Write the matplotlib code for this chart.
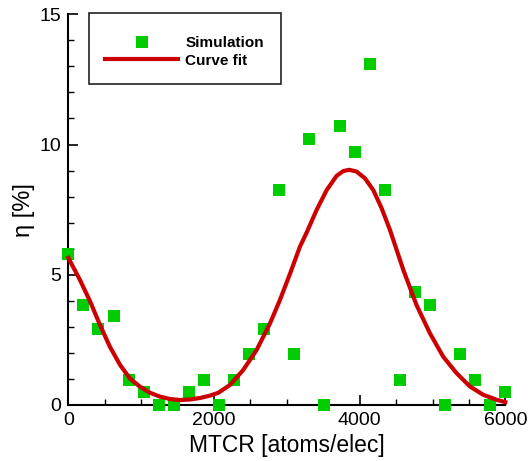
import matplotlib
matplotlib.use("Agg")
import matplotlib.pyplot as plt
from matplotlib.lines import Line2D
from matplotlib.patches import Rectangle

plt.rcParams['font.family'] = ['Liberation Sans', 'DejaVu Sans']

# simulation points
sim_x = [0, 207, 414, 621, 828, 1034, 1241, 1448, 1655, 1862,
         2069, 2276, 2483, 2690, 2897, 3103, 3310, 3517, 3724, 3931,
         4138, 4345, 4552, 4759, 4966, 5172, 5379, 5586, 5793, 6000]
sim_y = [5.8, 3.85, 2.9, 3.4, 0.95, 0.5, 0.0, 0.0, 0.5, 0.95,
         0.0, 0.95, 1.95, 2.9, 8.25, 1.95, 10.2, 0.0, 10.7, 9.7,
         13.1, 8.25, 0.95, 4.35, 3.85, 0.0, 1.95, 0.95, 0.0, 0.5]

# curve fit, sampled along the red line
fit_x = [0, 160, 300, 435, 570, 710, 845, 985, 1120, 1260, 1395, 1535,
         1670, 1810, 1945, 2060, 2220, 2400, 2585, 2770, 2905, 3045,
         3180, 3272, 3409, 3547, 3684, 3775, 3857, 3959, 4073, 4187,
         4302, 4416, 4600, 4780, 4965, 5148, 5331, 5514, 5697, 5881, 6000]
fit_y = [5.65, 4.80, 3.97, 3.07, 2.24, 1.54, 1.02, 0.70, 0.47, 0.32, 0.23, 0.19,
         0.21, 0.27, 0.36, 0.47, 0.77, 1.34, 2.11, 3.14, 4.03, 5.05,
         6.08, 6.62, 7.49, 8.25, 8.80, 8.98, 9.03, 8.96, 8.70, 8.25,
         7.55, 6.72, 5.18, 3.84, 2.75, 1.85, 1.22, 0.71, 0.39, 0.20, 0.11]

green = '#00cc00'
red = '#cc0000'

fig = plt.figure(figsize=(5.28, 4.61), dpi=100)
ax = fig.add_axes([0.1294, 0.1215, 0.8277, 0.8475])

ax.plot(sim_x, sim_y, 's', color=green, markersize=8, markeredgewidth=0,
        clip_on=False, zorder=4)
ax.plot(fit_x, fit_y, '-', color=red, linewidth=3, clip_on=False, zorder=5,
        solid_joinstyle='round')

ax.set_xlim(0, 6000)
ax.set_ylim(0, 15)
ax.set_xticks([0, 2000, 4000, 6000])
ax.set_xticks(range(0, 6001, 500), minor=True)
ax.set_yticks([0, 5, 10, 15])
ax.set_yticks(range(0, 16), minor=True)

for side in ['top', 'right']:
    ax.spines[side].set_visible(False)
for side in ['left', 'bottom']:
    ax.spines[side].set_linewidth(1.5)
ax.tick_params(which='major', direction='in', length=7.5, width=1.2,
               labelsize=14, pad=5, top=False, right=False)
ax.tick_params(which='minor', direction='in', length=4.3, width=1.0,
               top=False, right=False)

ax.set_xlabel('MTCR [atoms/elec]', fontsize=16.5, labelpad=4)
ax.set_ylabel('η [%]', fontsize=17, labelpad=3)

handles = [Line2D([], [], marker='s', linestyle='none', color=green,
                  markersize=8, markeredgewidth=0),
           Line2D([], [], color=red, linewidth=3)]
leg = ax.legend(handles, ['Simulation', 'Curve fit'],
                loc='upper left', bbox_to_anchor=(105 / 528, 1 - 36 / 461),
                bbox_transform=fig.transFigure, frameon=False,
                borderpad=0, borderaxespad=0, handlelength=4.8,
                handletextpad=0.45, labelspacing=0.25,
                prop={'size': 11, 'weight': 'bold'})

fig.patches.append(Rectangle((89 / 528, 1 - 84 / 461), 192 / 528, 71 / 461,
                             transform=fig.transFigure, fill=False,
                             edgecolor='#222222', linewidth=1.2))

fig.savefig('out.png', dpi=100)
